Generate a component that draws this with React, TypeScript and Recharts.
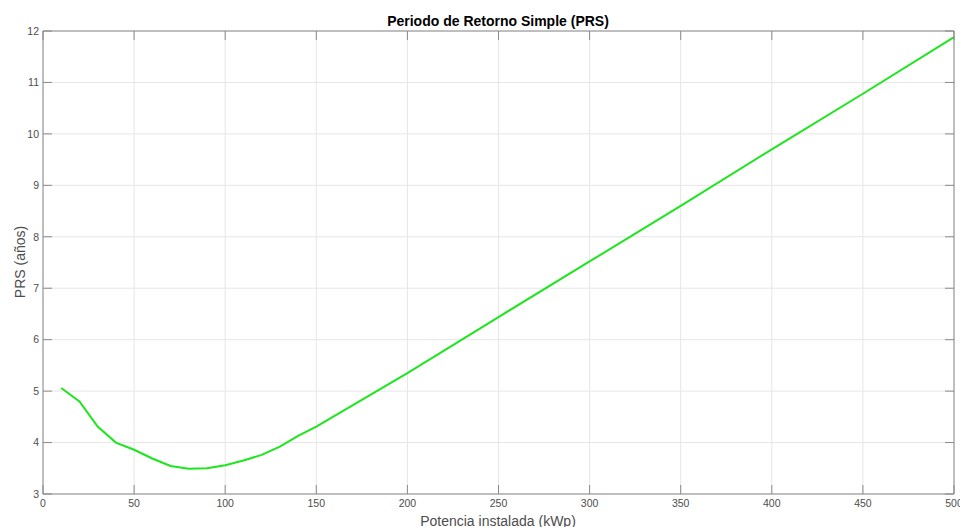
import * as React from "react";
import { LineChart, Line, XAxis, YAxis, CartesianGrid } from "recharts";

const potencia = [10, 20, 30, 40, 50, 60, 70, 80, 90, 100, 110, 120, 130, 140, 150, 200, 250, 300, 350, 400, 450, 500];
const prs = [5.06, 4.8, 4.31, 4.0, 3.86, 3.69, 3.545, 3.49, 3.5, 3.56, 3.65, 3.76, 3.92, 4.13, 4.31, 5.35, 6.44, 7.52, 8.6, 9.7, 10.78, 11.88];

const xTicks = [0, 50, 100, 150, 200, 250, 300, 350, 400, 450, 500];
const yTicks = [3, 4, 5, 6, 7, 8, 9, 10, 11, 12];

const title = "Periodo de Retorno Simple (PRS)";
const xLabel = "Potencia instalada (kWp)";
const yLabel = "PRS (años)";

const FONT = '"Liberation Sans", Arial, Helvetica, sans-serif';
const AXIS = "#8a8a8a";
const TEXT = "#4d4d4d";

const NoTick = () => null;

export default function App() {
    const data = React.useMemo(
        () => potencia.map((p, i) => ({ p, v: prs[i] })),
        []
    );

    const tickStyle = { fontSize: 10.5, fill: TEXT, fontFamily: FONT };

    return (
        <div style={{ position: "absolute", left: 0, top: 0, width: 960, height: 527, background: "#fff" }}>
            <LineChart
                width={960}
                height={527}
                data={data}
                margin={{ top: 0, right: 0, bottom: 0, left: 0 }}
            >
                <CartesianGrid stroke="#e6e6e6" xAxisId="x" yAxisId="y" />
                <XAxis
                    xAxisId="x"
                    dataKey="p"
                    type="number"
                    domain={[0, 500]}
                    ticks={xTicks}
                    height={33}
                    stroke={AXIS}
                    tickSize={-9}
                    tickMargin={15}
                    tick={tickStyle}
                    interval={0}
                />
                {/* top and right axes only close the box */}
                <XAxis
                    xAxisId="top"
                    dataKey="p"
                    orientation="top"
                    type="number"
                    domain={[0, 500]}
                    ticks={xTicks}
                    height={31}
                    stroke={AXIS}
                    tickSize={-9}
                    tick={NoTick}
                    interval={0}
                />
                <YAxis
                    yAxisId="y"
                    type="number"
                    domain={[3, 12]}
                    ticks={yTicks}
                    width={43}
                    stroke={AXIS}
                    tickSize={-9}
                    tickMargin={13}
                    tick={tickStyle}
                    interval={0}
                />
                <YAxis
                    yAxisId="right"
                    orientation="right"
                    type="number"
                    domain={[3, 12]}
                    ticks={yTicks}
                    width={6}
                    stroke={AXIS}
                    tickSize={-9}
                    tick={NoTick}
                    interval={0}
                />
                <Line
                    xAxisId="top"
                    yAxisId="right"
                    dataKey="v"
                    stroke="none"
                    dot={false}
                    activeDot={false}
                    isAnimationActive={false}
                />
                <Line
                    xAxisId="x"
                    yAxisId="y"
                    dataKey="v"
                    type="linear"
                    stroke="#1ee61e"
                    strokeWidth={2}
                    dot={false}
                    isAnimationActive={false}
                />
            </LineChart>
            <svg
                width={960}
                height={527}
                style={{ position: "absolute", left: 0, top: 0, pointerEvents: "none" }}
            >
                <text x={498} y={26} textAnchor="middle" fontFamily={FONT} fontSize={14} fontWeight="bold" fill="#000">
                    {title}
                </text>
                <text x={498} y={526} textAnchor="middle" fontFamily={FONT} fontSize={14} fill={TEXT}>
                    {xLabel}
                </text>
                <text
                    x={0}
                    y={0}
                    transform="translate(25 262) rotate(-90)"
                    textAnchor="middle"
                    fontFamily={FONT}
                    fontSize={14}
                    fill={TEXT}
                >
                    {yLabel}
                </text>
            </svg>
        </div>
    );
}
